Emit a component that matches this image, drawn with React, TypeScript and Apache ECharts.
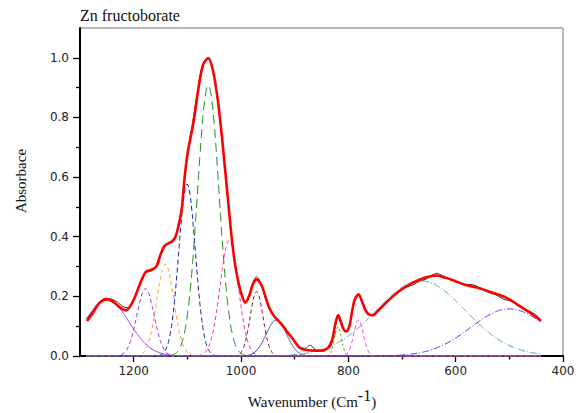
import React, { useEffect, useRef } from 'react';
import * as echarts from 'echarts';

// Deconvoluted band parameters (wavenumber, absorbance, gaussian sigma)
const peakCenters = [1250, 1178, 1141, 1100.5, 1061, 1022, 971, 934, 819.5, 781, 665, 500];
const peakHeights = [0.19, 0.226, 0.308, 0.577, 0.908, 0.388, 0.216, 0.121, 0.098, 0.121, 0.252, 0.158];
const peakSigmas = [41, 16, 16, 15.5, 20, 17, 12, 19, 6.5, 9, 83, 72];
const peakColors = ['#9b30ff', '#9932cc', '#ff9a33', '#1c1cb4', '#1f8f1f', '#ff2a9a', '#8b1a1a', '#4646aa', '#9a9a10', '#ff33ff', '#4aa3a3', '#3c3cff'];
const peakDashes: (string | number[])[] = ['solid', [4, 3], [4, 3], [5, 3], [9, 5], [4, 3], [4, 3], 'solid', [3, 2], [4, 3], [7, 2, 1, 2], [7, 2, 1, 2]];
const spectrumStart = 1288;
const spectrumEnd = 441;

// Cumulative fit (red)
const fitCurve: [number, number][] = [
  [1287, 0.117], [1276, 0.145], [1266, 0.173], [1258, 0.186], [1251, 0.19], [1242, 0.186], [1232, 0.173], [1222, 0.158], [1214, 0.153],
  [1206, 0.168], [1198, 0.196], [1186, 0.252], [1177, 0.283], [1166, 0.29], [1158, 0.3], [1151, 0.335], [1143, 0.368], [1135, 0.378],
  [1128, 0.385], [1122, 0.4], [1116, 0.44], [1110, 0.5], [1105, 0.6], [1099, 0.685], [1089, 0.778], [1080, 0.889], [1071, 0.975],
  [1061, 0.999], [1052, 0.956], [1043, 0.856], [1036, 0.744], [1030, 0.632], [1024, 0.52], [1018, 0.408], [1012, 0.319], [1005.5, 0.252],
  [999, 0.207], [992, 0.179], [985, 0.2], [978, 0.24], [971, 0.257], [964, 0.245], [959, 0.225], [953, 0.19], [947, 0.16], [940, 0.138],
  [934, 0.125], [925, 0.108], [915, 0.084], [903, 0.056], [891, 0.028], [878, 0.02], [860, 0.018], [845, 0.02], [836, 0.03], [830, 0.055],
  [825, 0.1], [819, 0.137], [813, 0.11], [809, 0.09], [804, 0.082], [798, 0.1], [793, 0.15], [788, 0.19], [781, 0.207], [774, 0.18],
  [767, 0.15], [760, 0.138], [754, 0.137], [742, 0.157], [723, 0.19], [705, 0.218], [680, 0.246], [655, 0.264], [635, 0.27], [620, 0.263],
  [605, 0.254], [581, 0.238], [556, 0.227], [531, 0.212], [506, 0.196], [481, 0.168], [457, 0.14], [441, 0.117]
];

const measuredCurve: [number, number][] = [
  [1288, 0.125], [1275, 0.152], [1265, 0.178], [1252, 0.194], [1240, 0.19], [1230, 0.18], [1220, 0.166], [1212, 0.162], [1205, 0.17],
  [1197, 0.2], [1188, 0.245], [1178, 0.278], [1166, 0.286], [1155, 0.305], [1148, 0.345], [1139, 0.372], [1128, 0.384], [1120, 0.41],
  [1112, 0.47], [1106, 0.575], [1099, 0.69], [1090, 0.785], [1080, 0.895], [1072, 0.975], [1062, 1.0], [1052, 0.955], [1043, 0.855],
  [1030, 0.63], [1018, 0.405], [1006, 0.25], [999, 0.205], [992, 0.18], [985, 0.205], [977, 0.25], [971, 0.266], [963, 0.244],
  [953, 0.185], [945, 0.152], [934, 0.127], [925, 0.105], [915, 0.08], [903, 0.055], [890, 0.03], [880, 0.026], [872, 0.036], [866, 0.03],
  [858, 0.016], [846, 0.016], [838, 0.03], [830, 0.06], [824, 0.105], [819, 0.13], [812, 0.1], [805, 0.083], [797, 0.11], [789, 0.18],
  [781, 0.205], [773, 0.18], [764, 0.145], [755, 0.138], [742, 0.16], [723, 0.19], [705, 0.216], [690, 0.232], [680, 0.238], [668, 0.25],
  [655, 0.258], [645, 0.27], [635, 0.277], [625, 0.27], [612, 0.258], [600, 0.25], [585, 0.24], [575, 0.24], [562, 0.236], [552, 0.225],
  [540, 0.214], [525, 0.205], [510, 0.19], [495, 0.183], [480, 0.165], [465, 0.152], [452, 0.14], [441, 0.122]
];

const xTicks = [400, 600, 800, 1000, 1200];
const xMinorTicks = [500, 700, 900, 1100];
const yTicks = [0, 0.2, 0.4, 0.6, 0.8, 1.0];
const yMinorTicks = [0.1, 0.3, 0.5, 0.7, 0.9];

const TITLE = 'Zn fructoborate';
const Y_NAME = 'Absorbace';

function bandCurve(i: number): [number, number][] {
  const pts: [number, number][] = [];
  const c = peakCenters[i], h = peakHeights[i], s = peakSigmas[i];
  for (let x = spectrumStart; x >= spectrumEnd; x -= 1) {
    pts.push([x, h * Math.exp(-((x - c) * (x - c)) / (2 * s * s))]);
  }
  return pts;
}

export default function App() {
  const ref = useRef<HTMLDivElement>(null);
  useEffect(() => {
    document.body.style.margin = '0';
    if (!ref.current) return;
    const chart = echarts.init(ref.current, null, { renderer: 'svg' });
    const tickLine = { color: '#000', width: 1.3 };
    const labelStyle = { fontSize: 12, fontFamily: 'DejaVu Sans', color: '#222' };
    const bandSeries = peakCenters.map((_, i) => ({
      type: 'line',
      data: bandCurve(i),
      showSymbol: false,
      symbol: 'none',
      silent: true,
      lineStyle: { color: peakColors[i], width: 1, type: peakDashes[i] as any },
      z: 2,
    }));
    chart.setOption({
      animation: false,
      grid: { left: 80, right: 16, top: 28, bottom: 57, show: true, borderColor: '#777', borderWidth: 1 },
      xAxis: [
        {
          type: 'value', min: 400, max: 1300, inverse: true, interval: 200,
          axisLine: { show: true, onZero: false, lineStyle: { color: '#000', width: 2 } },
          axisTick: { show: true, length: 6, customValues: xTicks, lineStyle: tickLine },
          axisLabel: { ...labelStyle, margin: 9, customValues: xTicks, formatter: (v: number) => String(v) },
          splitLine: { show: false },
        },
        {
          type: 'value', min: 400, max: 1300, inverse: true, position: 'bottom',
          axisLine: { show: false, onZero: false },
          axisTick: { show: true, length: 3.5, customValues: xMinorTicks, lineStyle: tickLine },
          axisLabel: { show: false },
          splitLine: { show: false },
        },
      ],
      yAxis: [
        {
          type: 'value', min: 0, max: 1.1, interval: 0.2,
          axisLine: { show: true, onZero: false, lineStyle: { color: '#000', width: 2 } },
          axisTick: { show: true, length: 7, customValues: yTicks, lineStyle: tickLine },
          axisLabel: { ...labelStyle, margin: 11, customValues: yTicks, formatter: (v: number) => v.toFixed(1) },
          splitLine: { show: false },
        },
        {
          type: 'value', min: 0, max: 1.1, position: 'left',
          axisLine: { show: false, onZero: false },
          axisTick: { show: true, length: 4, customValues: yMinorTicks, lineStyle: tickLine },
          axisLabel: { show: false },
          splitLine: { show: false },
        },
      ],
      graphic: [
        {
          type: 'text', x: 80, y: 7,
          style: { text: TITLE, fontFamily: 'Liberation Serif', fontSize: 16, fill: '#111', textAlign: 'left', textVerticalAlign: 'top' },
        },
        {
          type: 'text', x: 21, y: 181, rotation: Math.PI / 2,
          style: { text: Y_NAME, fontFamily: 'Liberation Serif', fontSize: 15, fill: '#111', textAlign: 'center', textVerticalAlign: 'middle' },
        },
        {
          type: 'text', x: 312, y: 387,
          style: {
            text: '{a|Wavenumber (Cm}{s|-1}{a|)}',
            textAlign: 'center', textVerticalAlign: 'top', fill: '#111',
            rich: {
              a: { fontFamily: 'Liberation Serif', fontSize: 15, lineHeight: 30, fill: '#111' },
              s: { fontFamily: 'Liberation Serif', fontSize: 16, lineHeight: 12, verticalAlign: 'top', fill: '#111' },
            },
          },
        },
      ],
      series: [
        ...bandSeries,
        {
          type: 'line', data: measuredCurve, showSymbol: false, symbol: 'none', smooth: 0.3, silent: true,
          lineStyle: { color: '#333', width: 1 }, z: 3,
        },
        {
          type: 'line', data: fitCurve, showSymbol: false, symbol: 'none', smooth: 0.3, silent: true,
          lineStyle: { color: '#ff0000', width: 2.6 }, z: 4,
        },
      ],
    });
    return () => chart.dispose();
  }, []);
  return <div ref={ref} style={{ width: 579, height: 413 }} />;
}
